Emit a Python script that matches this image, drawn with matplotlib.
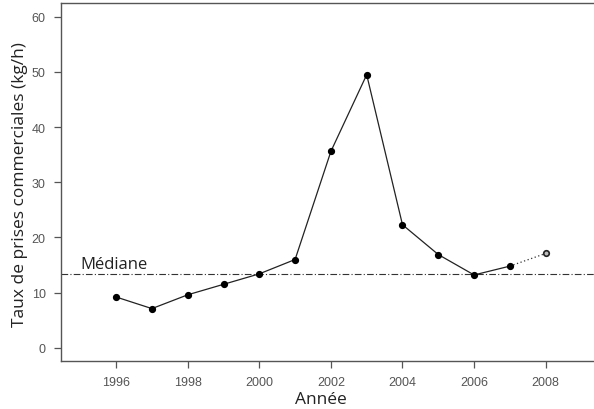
import matplotlib
matplotlib.use("Agg")
import matplotlib.pyplot as plt

years = [1996, 1997, 1998, 1999, 2000, 2001, 2002, 2003, 2004, 2005, 2006, 2007]
rates = [9.2, 7.1, 9.6, 11.5, 13.4, 16.0, 35.6, 49.5, 22.3, 16.9, 13.2, 14.8]
year_prelim = [2007, 2008]
rate_prelim = [14.8, 17.1]
median_value = 13.4
xticks = [1996, 1998, 2000, 2002, 2004, 2006, 2008]
yticks = [0, 10, 20, 30, 40, 50, 60]

fig = plt.figure(figsize=(5.94, 4.10), dpi=100)
ax = fig.add_axes([61/594, 1-362/410, 1.0 - 61/594 + 0.003, (362-4)/410])

ax.axhline(median_value, color="#333333", lw=0.8, linestyle=(0, (6, 2, 1, 2)))
ax.plot(year_prelim, rate_prelim, color="#333333", lw=0.9, linestyle=(0, (1, 2)))
ax.plot(years, rates, color="#222222", lw=0.9, marker="o", markersize=4.2,
        markerfacecolor="black", markeredgecolor="black")
ax.plot(year_prelim[-1:], rate_prelim[-1:], linestyle="none", marker="o", markersize=4,
        markerfacecolor="#bbbbbb", markeredgecolor="#222222", markeredgewidth=1.2)

ax.text(1995.0, median_value + 0.4, "Médiane", fontsize=12, family="Open Sans",
        color="#222222", va="bottom", ha="left")

ax.set_xlim(1994.46, 2009.4)
ax.set_ylim(-2.4, 62.5)
ax.set_xticks(xticks)
ax.set_yticks(yticks)
ax.set_xticklabels([str(t) for t in xticks], family="Liberation Sans", fontsize=9, color="#555555")
ax.set_yticklabels([str(t) for t in yticks], family="Liberation Sans", fontsize=9, color="#555555")
ax.tick_params(direction="out", length=5, width=0.9, color="#555555", pad=6)
for s in ["left", "bottom", "top"]:
    ax.spines[s].set_color("#555555")
    ax.spines[s].set_linewidth(1.0)
ax.spines["right"].set_visible(False)

ax.set_ylabel("Taux de prises commerciales (kg/h)", fontsize=12.5, family="Open Sans", color="#222222")
ax.set_xlabel("Année", fontsize=12.5, family="Open Sans", color="#222222")
ax.yaxis.set_label_coords(-41/533, (349-172)/358 + 0.0)
ax.xaxis.set_label_coords((320-61)/533, -38/358)
ax.xaxis.label.set_va("center")
ax.yaxis.label.set_va("center")

fig.savefig("out.png", dpi=100)
